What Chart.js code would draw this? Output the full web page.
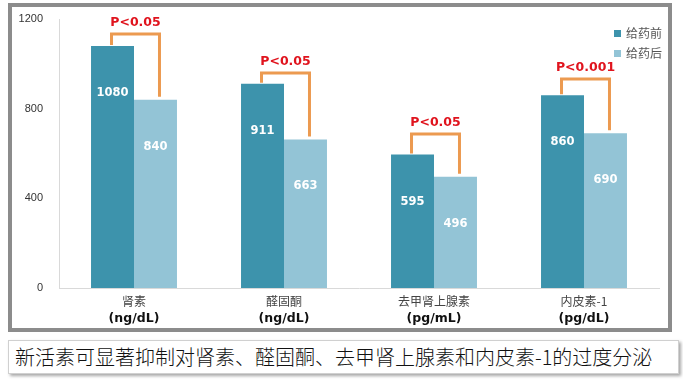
<!DOCTYPE html>
<html>
<head>
<meta charset="utf-8">
<script src="https://cdn.jsdelivr.net/npm/chart.js"></script>
<style>
    body { margin: 0; background: #fff; width: 683px; height: 381px; position: relative; overflow: hidden; font-family: "Noto Sans CJK SC", sans-serif; }
    .frame { position: absolute; left: 8px; top: 3px; width: 656px; height: 321px; border: 4px solid #8c8c8c; background: #fff; }
    .wrap { position: absolute; left: 12px; top: 7px; width: 656px; height: 321px; }
    .legend { position: absolute; left: 614px; top: 24px; font-size: 12px; color: #555; }
    .legend div { height: 20px; line-height: 18px; white-space: nowrap; }
    .legend span { display: inline-block; width: 7px; height: 7px; margin-right: 5px; vertical-align: 1px; }
    .caption { position: absolute; left: 8px; top: 340px; width: 663px; height: 32px; border: 1px solid #d0d0d0; box-shadow: 2px 2px 3px rgba(0,0,0,0.35); background: #fff; font-size: 20px; font-weight: 300; line-height: 32px; padding-left: 6px; box-sizing: content-box; color: #111; white-space: nowrap; }
</style>
</head>
<body>
<div class="frame"></div>
<div class="wrap"><canvas id="c" width="656" height="321"></canvas></div>
<div class="legend">
    <div><span style="background:#3d93ac"></span>给药前</div>
    <div><span style="background:#93c4d6"></span>给药后</div>
</div>
<div class="caption">新活素可显著抑制对肾素、醛固酮、去甲肾上腺素和内皮素-1的过度分泌</div>
<script>
// 数据
const categories = ['肾素', '醛固酮', '去甲肾上腺素', '内皮素-1'];
const units = ['(ng/dL)', '(ng/dL)', '(pg/mL)', '(pg/dL)'];
const before = [1080, 911, 595, 860];
const after = [840, 663, 496, 690];
const pLabels = ['P<0.05', 'P<0.05', 'P<0.05', 'P<0.001'];
const bracketLevel = [1133, 959, 687, 932];
const yTicks = [0, 400, 800, 1200];

// 数值标签、显著性括号、x轴文字
const extras = {
    id: 'extras',
    afterDatasetsDraw(chart) {
        const ctx = chart.ctx;
        const x = chart.scales.x, y = chart.scales.y;
        const m0 = chart.getDatasetMeta(0).data;
        const m1 = chart.getDatasetMeta(1).data;
        ctx.save();
        ctx.textAlign = 'center';
        ctx.textBaseline = 'middle';
        // 柱内数值
        ctx.fillStyle = '#fff';
        ctx.font = 'bold 11.5px "DejaVu Sans"';
        [m0, m1].forEach((bars, d) => {
            bars.forEach((b, i) => {
                const v = chart.data.datasets[d].data[i];
                ctx.fillText(v, b.x, b.y + 47);
            });
        });
        // 括号
        ctx.strokeStyle = '#ec9a50';
        ctx.lineWidth = 3;
        ctx.lineCap = 'butt';
        categories.forEach((c, i) => {
            const yb = y.getPixelForValue(bracketLevel[i]);
            const x1 = m0[i].x - 1, x2 = m1[i].x + 4;
            ctx.beginPath();
            ctx.moveTo(x1, m0[i].y - 1);
            ctx.lineTo(x1, yb);
            ctx.lineTo(x2, yb);
            ctx.lineTo(x2, m1[i].y - 3);
            ctx.stroke();
            ctx.fillStyle = '#e0141e';
            ctx.font = 'bold 12.5px "DejaVu Sans"';
            ctx.fillText(pLabels[i], (x1 + x2) / 2, yb - 11);
        });
        // x轴标签
        categories.forEach((c, i) => {
            const px = x.getPixelForValue(i);
            ctx.fillStyle = '#444';
            ctx.font = '12px "Noto Sans CJK SC"';
            ctx.fillText(c, px, y.bottom + 13);
            ctx.fillStyle = '#111';
            ctx.font = 'bold 12.5px "DejaVu Sans"';
            ctx.fillText(units[i], px, y.bottom + 31);
        });
        ctx.restore();
    }
};

new Chart(document.getElementById('c'), {
    type: 'bar',
    data: {
        labels: categories,
        datasets: [
            { label: '给药前', data: before, backgroundColor: '#3d93ac' },
            { label: '给药后', data: after, backgroundColor: '#93c4d6' }
        ]
    },
    options: {
        responsive: false,
        animation: false,
        events: [],
        categoryPercentage: 0.573,
        barPercentage: 1,
        layout: { padding: { top: 12, right: 9, left: 0, bottom: 0 } },
        plugins: { legend: { display: false }, tooltip: { enabled: false } },
        scales: {
            x: {
                grid: { display: false },
                border: { color: '#d9d9d9' },
                ticks: { display: false },
                afterFit: s => { s.height = 40; }
            },
            y: {
                min: 0, max: 1200,
                grid: { display: false, drawTicks: true, tickLength: 16 },
                border: { color: '#d9d9d9' },
                afterBuildTicks: s => { s.ticks = yTicks.map(v => ({ value: v })); },
                ticks: { color: '#333', padding: 0, font: { size: 11, family: 'Liberation Sans' }, callback: v => String(v) },
                afterFit: s => { s.width = 47; }
            }
        }
    },
    plugins: [extras]
});
</script>
</body>
</html>
